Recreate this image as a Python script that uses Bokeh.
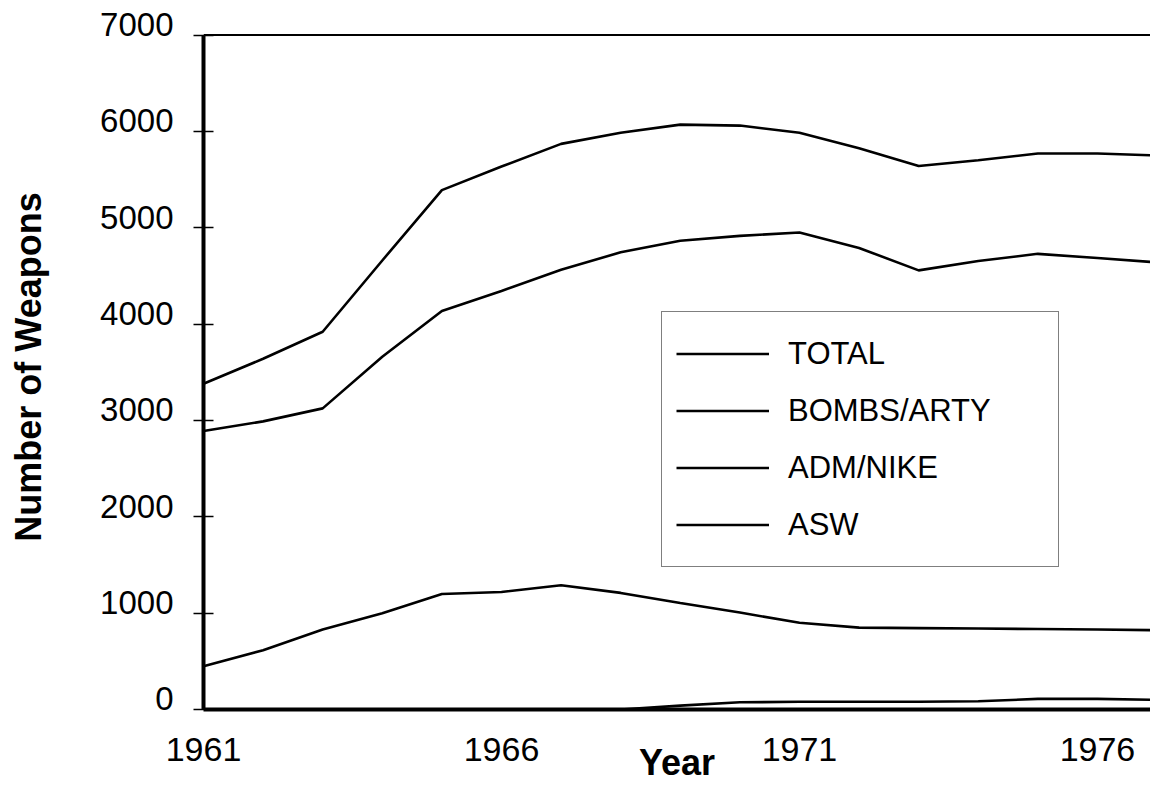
from bokeh.plotting import figure
from bokeh.models import (FixedTicker, Legend, LegendItem, Span, ColumnDataSource,
                          LinearAxis, Range1d)
from bokeh.embed import file_html
from bokeh.resources import INLINE

years = [1961, 1962, 1963, 1964, 1965, 1966, 1967, 1968, 1969, 1970,
         1971, 1972, 1973, 1974, 1975, 1976, 1977]
total = [3380, 3640, 3920, 4660, 5390, 5635, 5870, 5985, 6070, 6060,
         5985, 5825, 5640, 5700, 5770, 5770, 5750]
bombs_arty = [2890, 2990, 3125, 3660, 4135, 4344, 4563, 4745, 4865, 4915,
              4950, 4790, 4557, 4655, 4729, 4685, 4640]
adm_nike = [450, 615, 830, 1000, 1198, 1220, 1290, 1210, 1105, 1006,
            900, 850, 845, 840, 835, 830, 823]
asw = [0, 0, 0, 0, 0, 0, 0, 0, 40, 75, 80, 80, 80, 85, 110, 110, 100]

series_names = ["TOTAL", "BOMBS/ARTY", "ADM/NIKE", "ASW"]
x_ticks = [1961, 1966, 1971, 1976]
y_ticks = [0, 1000, 2000, 3000, 4000, 5000, 6000, 7000]
y_max = 7000
label_lift = 109  # tick labels sit just above their tick marks, as in the original

src = ColumnDataSource(dict(year=years, total=total, bombs=bombs_arty,
                            adm=adm_nike, asw=asw))

FONT = "Liberation Sans"

p = figure(width=1150, height=785, output_backend="svg", toolbar_location=None,
           x_range=(1961, 1976.89), y_range=(0, y_max + label_lift),
           min_border_left=203, min_border_right=0, min_border_top=24,
           min_border_bottom=76)
p.background_fill_color = "white"
p.border_fill_color = "white"
p.outline_line_color = None
p.xgrid.visible = False
p.ygrid.visible = False

renderers = []
for col in ["total", "bombs", "adm", "asw"]:
    r = p.line("year", col, source=src, line_color="black", line_width=2.6)
    renderers.append(r)

top = Span(location=y_max, dimension="width", line_color="black", line_width=2)
p.add_layout(top)

# x axis
xa = p.xaxis[0]
xa.ticker = FixedTicker(ticks=x_ticks)
xa.axis_line_width = 4
xa.axis_line_color = "black"
xa.major_tick_line_color = None
xa.minor_tick_line_color = None
xa.major_tick_out = 0
xa.major_tick_in = 0
xa.major_label_standoff = 28
xa.major_label_text_font = FONT
xa.major_label_text_font_size = "34px"
xa.major_label_text_color = "black"
xa.axis_label = "Year"
xa.axis_label_text_font = FONT
xa.axis_label_text_font_size = "36px"
xa.axis_label_text_font_style = "bold"
xa.axis_label_text_color = "black"
xa.axis_label_standoff = -22

# y axis: line and tick marks
ya = p.yaxis[0]
ya.ticker = FixedTicker(ticks=y_ticks)
ya.bounds = (0, y_max)
ya.axis_line_width = 4
ya.axis_line_color = "black"
ya.major_tick_line_color = "black"
ya.major_tick_line_width = 1.5
ya.major_tick_in = 10
ya.major_tick_out = 10
ya.minor_tick_line_color = None
ya.major_label_standoff = 0
ya.major_label_overrides = {t: "" for t in y_ticks}

# y axis: labels (on a range lifted so each number sits on its tick)
p.extra_y_ranges = {"labels": Range1d(start=-label_lift, end=y_max + 0.001)}
yl = LinearAxis(y_range_name="labels", ticker=FixedTicker(ticks=y_ticks))
yl.axis_line_color = None
yl.major_tick_line_color = None
yl.minor_tick_line_color = None
yl.major_tick_in = 0
yl.major_tick_out = 0
yl.major_label_standoff = 20
yl.major_label_text_font = FONT
yl.major_label_text_font_size = "33px"
yl.major_label_text_color = "black"
yl.axis_label = "Number of Weapons"
yl.axis_label_text_font = FONT
yl.axis_label_text_font_size = "36px"
yl.axis_label_text_font_style = "bold"
yl.axis_label_text_color = "black"
yl.axis_label_standoff = 48
p.add_layout(yl, "left")

items = [LegendItem(label=n, renderers=[r]) for n, r in zip(series_names, renderers)]
legend = Legend(items=items, location=(458, 142),
                label_text_font=FONT, label_text_font_size="31px",
                label_text_color="black",
                glyph_width=93, glyph_height=55, label_height=55,
                label_width=256, label_standoff=19, spacing=2, padding=14,
                margin=0, border_line_color="black", border_line_width=1,
                background_fill_color="white", background_fill_alpha=1.0)
p.add_layout(legend)

open("out.html", "w").write(file_html(p, INLINE))
